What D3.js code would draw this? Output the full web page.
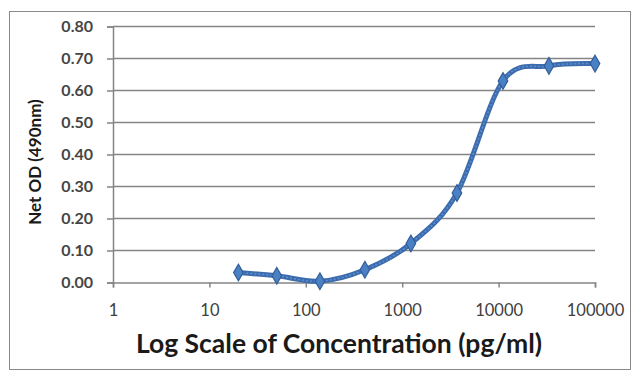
<!DOCTYPE html>
<html>
<head>
<meta charset="utf-8">
<script src="https://cdn.jsdelivr.net/npm/d3@7"></script>
<style>
  html, body { margin: 0; padding: 0; background: #fff; }
  svg { display: block; }
</style>
</head>
<body>
<div id="chart"></div>
<script>
// concentration (pg/ml) and net OD
const concentrations = [20, 50, 140, 410, 1230, 3700, 11100, 33300, 100000];
const netOD = [0.031, 0.021, 0.004, 0.040, 0.122, 0.280, 0.630, 0.677, 0.684];
const xTicks = [1, 10, 100, 1000, 10000, 100000];
const yTicks = [0, 0.1, 0.2, 0.3, 0.4, 0.5, 0.6, 0.7, 0.8];

const width = 633, height = 371;
const margin = { top: 26.5, right: 38, bottom: 88.5, left: 113 };
const innerWidth = width - margin.left - margin.right;
const innerHeight = height - margin.top - margin.bottom;
const font = 'Lato, "Open Sans", sans-serif';

const svg = d3.select('#chart')
  .append('svg')
  .attr('width', width)
  .attr('height', height);

// outer chart border
svg.append('rect')
  .attr('x', 9.5).attr('y', 11.5)
  .attr('width', width - 12).attr('height', height - 13)
  .attr('fill', 'none')
  .attr('stroke', '#8a8a8a')
  .attr('stroke-width', 1);

const g = svg.append('g')
  .attr('transform', `translate(${margin.left},${margin.top})`);

const x = d3.scaleLog()
  .domain([1, 100000])
  .range([0, innerWidth]);

const y = d3.scaleLinear()
  .domain([0, 0.8])
  .range([innerHeight, 0]);

// gridlines
g.selectAll('.grid')
  .data(yTicks.filter(d => d > 0))
  .enter()
  .append('line')
  .attr('class', 'grid')
  .attr('x1', 0)
  .attr('x2', innerWidth)
  .attr('y1', d => y(d))
  .attr('y2', d => y(d))
  .attr('stroke', '#858585')
  .attr('stroke-width', 1.5);

// y axis
const yAxis = g.append('g')
  .call(d3.axisLeft(y).tickValues(yTicks).tickFormat(d3.format('.2f')).tickSize(6).tickPadding(14));
yAxis.select('.domain').attr('stroke', '#858585').attr('stroke-width', 1.5);
yAxis.selectAll('.tick line').attr('stroke', '#858585').attr('stroke-width', 1.5);
yAxis.selectAll('text')
  .attr('font-family', font)
  .attr('font-size', '16px')
  .attr('font-weight', 'bold')
  .attr('fill', '#454545');

// x axis
const xAxis = g.append('g')
  .attr('transform', `translate(0,${innerHeight})`)
  .call(d3.axisBottom(x).tickValues(xTicks).tickFormat(d3.format('d')).tickSize(5).tickPadding(17));
xAxis.select('.domain').attr('stroke', '#858585').attr('stroke-width', 1.5);
xAxis.selectAll('.tick line').attr('stroke', '#858585').attr('stroke-width', 1.5);
xAxis.selectAll('text')
  .attr('font-family', font)
  .attr('font-size', '16.5px')
  .attr('fill', '#404040');

// data
const data = concentrations.map((c, i) => ({ c, v: netOD[i] }));

const line = d3.line()
  .x(d => x(d.c))
  .y(d => y(d.v))
  .curve(d3.curveCardinal.tension(0));

g.append('path')
  .datum(data)
  .attr('fill', 'none')
  .attr('stroke', '#3d6cae')
  .attr('stroke-width', 5)
  .attr('d', line);

g.append('path')
  .datum(data)
  .attr('fill', 'none')
  .attr('stroke', '#5b8fd0')
  .attr('stroke-width', 1.5)
  .attr('stroke-dasharray', '2,2')
  .attr('d', line);

g.selectAll('.marker')
  .data(data)
  .enter()
  .append('path')
  .attr('class', 'marker')
  .attr('transform', d => `translate(${x(d.c)},${y(d.v)})`)
  .attr('d', d3.symbol().type(d3.symbolDiamond).size(80))
  .attr('fill', '#4a80c4')
  .attr('stroke', '#335d99')
  .attr('stroke-width', 1.2);

// axis titles
svg.append('text')
  .attr('x', 339)
  .attr('y', 353)
  .attr('text-anchor', 'middle')
  .attr('font-family', font)
  .attr('font-size', '26.5px')
  .attr('font-weight', 'bold')
  .attr('fill', '#1a1a1a')
  .text('Log Scale of Concentration (pg/ml)');

svg.append('text')
  .attr('transform', 'translate(41,162) rotate(-90)')
  .attr('text-anchor', 'middle')
  .attr('font-family', font)
  .attr('font-size', '17px')
  .attr('font-weight', 'bold')
  .attr('fill', '#1a1a1a')
  .text('Net OD (490nm)');
</script>
</body>
</html>
